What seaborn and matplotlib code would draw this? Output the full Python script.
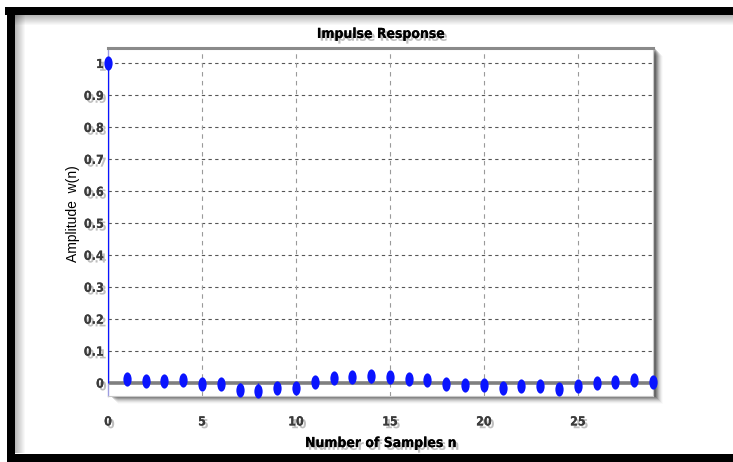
import numpy as np
import pandas as pd
import seaborn as sns
import matplotlib
matplotlib.use("Agg")
import matplotlib.pyplot as plt
from matplotlib import patheffects as pe
from matplotlib.patches import Rectangle
from matplotlib.path import Path
from matplotlib.transforms import Affine2D

# Impulse response samples
n_samples = list(range(30))
w_values = [1.0, 0.012, 0.006, 0.005, 0.007, -0.006, -0.005, -0.022, -0.026, -0.018,
            -0.016, 0.002, 0.013, 0.017, 0.022, 0.019, 0.012, 0.007, -0.003, -0.007,
            -0.007, -0.018, -0.011, -0.011, -0.019, -0.010, -0.002, 0.003, 0.008, 0.003]
x_ticks = [0, 5, 10, 15, 20, 25]
y_ticks = [0, 0.1, 0.2, 0.3, 0.4, 0.5, 0.6, 0.7, 0.8, 0.9, 1]
y_tick_labels = ["0", "0.1", "0.2", "0.3", "0.4", "0.5", "0.6", "0.7", "0.8", "0.9", "1"]

df = pd.DataFrame({"n": n_samples, "w": w_values})

sns.set_theme(style="white")
plt.rcParams["font.family"] = ["DejaVu Sans"]
plt.rcParams["font.stretch"] = "condensed"

W, H = 733, 462
fig = plt.figure(figsize=(W / 100, H / 100), dpi=100)
fig.patch.set_facecolor("white")

ax_l, ax_r, ax_t, ax_b = 108, 653, 47.7, 396
ax = fig.add_axes([ax_l / W, (H - ax_b) / H, (ax_r - ax_l) / W, (ax_b - ax_t) / H])

# soft drop shadow behind the plotting box
for k, a in zip(range(1, 9), [0.20, 0.17, 0.14, 0.11, 0.08, 0.06, 0.04, 0.02]):
    fig.add_artist(Rectangle(((ax_l + 2 + k) / W, (H - ax_b - k) / H),
                             (ax_r - ax_l) / W, (ax_b - ax_t) / H,
                             transform=fig.transFigure, facecolor="black",
                             edgecolor="none", alpha=a, zorder=-5))

# elliptical marker (taller than wide)
ellipse = Path.unit_circle().transformed(Affine2D().scale(0.58, 1.0))

blue = "#0a14ff"
ax.vlines(df["n"], 0, df["w"], color=blue, lw=1.0, zorder=3)
ax.axhline(0, color="#7f7f7f", lw=2.6, zorder=2)
sns.scatterplot(data=df, x="n", y="w", ax=ax, marker=ellipse, s=105,
                color=blue, edgecolor=blue, linewidth=0, zorder=4, clip_on=False)

ax.set_xlim(0, 29)
ax.set_ylim(-0.042, 1.048)
ax.set_xticks(x_ticks)
ax.set_yticks(y_ticks)
ax.set_yticklabels(y_tick_labels)

for y in y_ticks[1:]:
    ax.axhline(y, color="#555555", lw=0.8, ls=(0, (3, 3)), zorder=1)
for x in x_ticks[1:]:
    ax.axvline(x, color="#9a9a9a", lw=0.8, ls=(0, (4, 4)), zorder=1)

for s in ["right", "bottom"]:
    ax.spines[s].set_color("#c8c8c8")
    ax.spines[s].set_linewidth(0.8)
ax.spines["top"].set_color("#8a8a8a")
ax.spines["top"].set_linewidth(2.2)
ax.spines["left"].set_color("#9c9ce0")
ax.spines["left"].set_linewidth(1.0)

shadow = [pe.withSimplePatchShadow(offset=(2, -2), shadow_rgbFace="0.45", alpha=0.45), pe.Normal()]

ax.tick_params(axis="both", length=0, labelsize=9, labelcolor="#3c3c3c")
ax.tick_params(axis="x", pad=14)
ax.tick_params(axis="y", pad=3)
for lab in ax.get_xticklabels() + ax.get_yticklabels():
    lab.set_fontweight("bold")
    lab.set_path_effects(shadow)

ax.set_title("Impulse Response", fontsize=10, fontweight="bold", color="black",
             pad=7, path_effects=shadow)
ax.set_xlabel("Number of Samples n", fontsize=10, fontweight="bold", color="black",
              path_effects=shadow)
ax.xaxis.set_label_coords(0.5, -0.115)
ax.set_ylabel("Amplitude  w(n)", fontsize=10, color="black",
              family=["Liberation Sans", "DejaVu Sans"], stretch="normal")
ax.yaxis.set_label_coords(-0.052, 0.525)

# black frame with inner shading
def px_rect(x0, y0, x1, y1, **kw):
    fig.add_artist(Rectangle((x0 / W, (H - y1) / H), (x1 - x0) / W, (y1 - y0) / H,
                             transform=fig.transFigure, **kw))

for k in range(10):
    a = 0.28 * (1 - k / 10)
    px_rect(15, 15 + k, W, 16 + k, facecolor="black", edgecolor="none", alpha=a, zorder=9)
    px_rect(15 + k, 15, 16 + k, 453, facecolor="black", edgecolor="none", alpha=a, zorder=9)
px_rect(5, 7, W, 15, facecolor="black", edgecolor="none", zorder=10)
px_rect(7, 7, 15, H, facecolor="black", edgecolor="none", zorder=10)
px_rect(7, 454, W, H, facecolor="black", edgecolor="none", zorder=10)

fig.savefig("out.png", dpi=100)
